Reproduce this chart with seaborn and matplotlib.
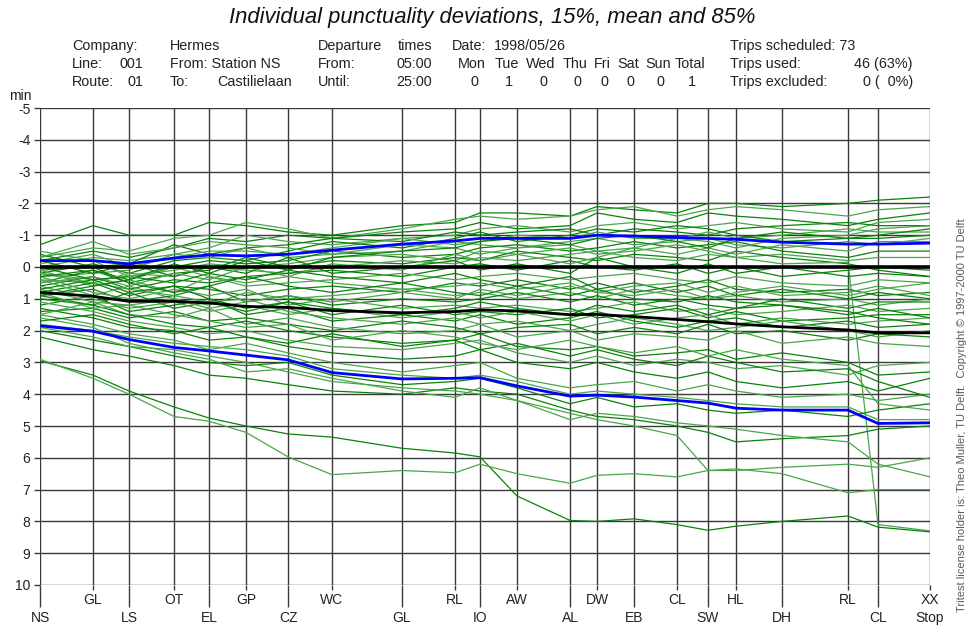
import matplotlib
matplotlib.use("Agg")
import matplotlib.pyplot as plt
import seaborn as sns
import pandas as pd

# ---------------- data ----------------
stops = ['NS', 'GL', 'LS', 'OT', 'EL', 'GP', 'CZ', 'WC', 'GL', 'RL', 'IO',
         'AW', 'AL', 'DW', 'EB', 'CL', 'SW', 'HL', 'DH', 'RL', 'CL', 'XX']
stop_position = [0, 53, 89, 134, 169, 206, 248, 292, 362, 415, 440,
                 477, 530, 557, 594, 637, 668, 696, 742, 808, 838, 890]

pct15 = [-0.2, -0.2, -0.1, -0.28, -0.38, -0.35, -0.4, -0.53, -0.72, -0.82, -0.9,
         -0.9, -0.9, -1.0, -0.97, -0.93, -0.9, -0.87, -0.78, -0.72, -0.72, -0.75]
mean_dev = [0.8, 0.92, 1.08, 1.08, 1.13, 1.24, 1.27, 1.37, 1.44, 1.4, 1.35,
            1.38, 1.5, 1.49, 1.56, 1.65, 1.72, 1.79, 1.88, 1.98, 2.07, 2.07]
pct85 = [1.85, 2.02, 2.28, 2.53, 2.64, 2.77, 2.92, 3.32, 3.52, 3.5, 3.48,
         3.74, 4.06, 4.03, 4.09, 4.2, 4.28, 4.44, 4.5, 4.5, 4.92, 4.9]

trip_01 = [-0.7, -1.3, -1.0, -1.0, -1.4, -1.3, -1.1, -1.0, -1.3, -1.4, -1.7, -1.7, -1.6, -1.9, -1.8, -1.7, -2.0, -2.0, -1.9, -2.0, -2.1, -2.2]
trip_02 = [-0.3, -0.6, -0.5, -0.9, -1.0, -1.4, -1.2, -0.9, -1.2, -1.5, -1.6, -1.5, -1.6, -1.8, -1.9, -1.6, -1.8, -1.9, -1.8, -1.6, -1.8, -1.9]
trip_03 = [-0.2, -0.5, -0.3, -0.6, -0.9, -0.8, -1.0, -0.9, -1.1, -1.2, -1.4, -1.2, -1.3, -1.7, -1.5, -1.4, -1.7, -1.6, -1.5, -1.3, -1.5, -1.7]
trip_04 = [0.0, -0.3, -0.2, -0.4, -0.6, -1.0, -0.8, -0.7, -0.9, -1.0, -1.2, -1.3, -1.1, -1.3, -1.4, -1.2, -1.3, -1.4, -1.2, -1.1, -1.4, -1.5]
trip_05 = [0.1, 0.0, -0.1, -0.7, -0.4, -0.6, -0.7, -0.9, -0.8, -1.1, -1.0, -1.1, -1.2, -1.0, -1.2, -1.1, -1.0, -1.2, -1.3, -1.4, -1.3, -1.3]
trip_06 = [-0.1, -0.4, 0.0, -0.3, -0.5, -0.5, -0.4, -0.6, -0.9, -0.7, -0.8, -1.0, -0.9, -1.1, -0.9, -0.9, -1.1, -0.9, -1.0, -1.2, -1.1, -1.1]
trip_07 = [0.2, -0.1, 0.2, -0.2, -0.3, -0.2, -0.5, -0.8, -0.6, -0.9, -1.1, -0.8, -1.0, -1.2, -1.1, -1.3, -1.2, -1.0, -0.8, -0.9, -0.9, -1.0]
trip_08 = [0.3, 0.2, 0.1, -0.4, -0.3, -0.6, -0.3, -0.4, -0.5, -0.8, -0.7, -0.6, -0.8, -0.9, -0.7, -0.8, -0.9, -0.7, -0.6, -0.8, -0.7, -0.9]
trip_09 = [0.5, 0.1, 0.4, 0.0, -0.2, -0.1, -0.2, -0.5, -0.3, -0.4, -0.6, -0.7, -0.5, -0.6, -0.8, -0.6, -0.7, -0.8, -0.5, -0.3, -0.5, -0.5]
trip_10 = [0.2, 0.4, 0.3, 0.1, -0.1, 0.0, -0.1, -0.3, -0.4, -0.2, -0.5, -0.4, -0.6, -0.4, -0.5, -0.7, -0.5, -0.3, -0.4, -0.2, -0.3, -0.3]
trip_11 = [-0.4, 0.0, 0.5, 0.2, 0.1, -0.3, 0.0, -0.2, -0.1, -0.3, -0.2, -0.5, -0.3, -0.2, -0.4, -0.3, -0.2, -0.5, -0.3, -0.1, 0.1, 0.3]
trip_12 = [0.4, 0.5, 0.2, 0.3, 0.0, 0.1, 0.2, 0.0, -0.2, -0.1, -0.3, -0.2, -0.4, -0.5, -0.3, -0.2, -0.4, -0.3, -0.1, -0.15, 8.1, 8.3]
trip_13 = [0.6, 0.3, 0.7, 0.4, 0.5, 0.3, 0.2, 0.1, 0.3, 0.0, -0.1, 0.1, -0.2, 0.0, 0.1, -0.1, 0.2, 0.0, 0.3, 0.1, 0.0, 0.1]
trip_14 = [0.1, 0.6, 0.4, 0.8, 0.3, 0.6, 0.5, 0.4, 0.2, 0.4, 0.3, 0.2, 0.4, 0.3, 0.2, 0.4, 0.5, 0.3, 0.5, 0.6, 0.4, 0.5]
trip_15 = [0.8, 0.5, 0.9, 0.6, 0.7, 0.9, 0.7, 0.6, 0.8, 0.5, 0.6, 0.4, 0.7, 0.5, 0.8, 0.6, 0.4, 0.7, 0.8, 0.7, 0.9, 0.8]
trip_16 = [0.4, 0.9, 0.6, 1.0, 1.2, 0.8, 1.0, 0.9, 0.7, 0.9, 0.8, 1.0, 0.8, 1.0, 0.7, 0.9, 1.0, 0.9, 1.1, 1.0, 1.2, 1.0]
trip_17 = [0.9, 0.7, 1.1, 0.9, 0.6, 1.1, 0.9, 1.2, 1.0, 1.1, 1.0, 0.8, 1.1, 0.9, 1.2, 1.0, 1.2, 1.3, 1.0, 1.3, 1.1, 1.1]
trip_18 = [0.3, 0.8, 1.0, 0.7, 0.9, 0.7, 1.2, 1.0, 1.3, 1.2, 1.3, 1.2, 1.4, 1.3, 1.1, 1.4, 1.3, 1.5, 1.4, 1.2, 1.4, 1.3]
trip_19 = [1.0, 1.2, 0.8, 1.3, 1.1, 1.4, 1.1, 1.5, 1.2, 1.5, 1.4, 1.5, 1.3, 1.6, 1.5, 1.3, 1.6, 1.4, 1.7, 1.6, 1.5, 1.5]
trip_20 = [0.6, 1.0, 1.3, 1.1, 1.4, 1.2, 1.5, 1.3, 1.6, 1.4, 1.6, 1.4, 1.7, 1.5, 1.8, 1.6, 1.5, 1.8, 1.6, 1.8, 1.7, 1.6]
trip_21 = [1.2, 0.9, 1.4, 1.2, 1.0, 1.5, 1.3, 1.7, 1.5, 1.7, 1.5, 1.8, 1.6, 1.4, 1.7, 1.9, 1.7, 1.6, 1.9, 1.7, 1.9, 1.8]
trip_22 = [0.2, 0.5, 0.7, 0.9, 1.1, 1.0, 1.4, 1.6, 1.8, 1.6, 1.8, 1.7, 2.0, 1.8, 1.6, 1.8, 2.0, 1.9, 1.7, 2.0, 2.2, 2.0]
trip_23 = [1.4, 1.3, 1.6, 1.4, 1.7, 1.6, 1.8, 2.0, 1.7, 1.9, 2.1, 1.9, 1.8, 2.1, 1.9, 2.1, 1.8, 2.1, 2.0, 2.3, 2.1, 2.2]
trip_24 = [0.7, 1.1, 1.5, 1.6, 1.3, 1.8, 1.6, 1.9, 2.1, 2.0, 1.8, 2.2, 2.0, 2.3, 2.1, 2.2, 2.3, 2.0, 2.4, 2.2, 2.4, 2.5]
trip_25 = [-0.2, 0.2, -0.1, 0.3, 0.0, 0.2, -0.3, 0.2, 0.0, -0.2, 0.1, -0.1, 0.2, -0.3, 0.0, 0.2, -0.1, 0.2, 0.0, 0.3, 0.2, 0.3]
trip_26 = [0.5, 0.3, 0.6, 0.2, 0.4, 0.0, 0.3, -0.1, 0.1, -0.4, -0.2, -0.4, -0.1, -0.3, -0.6, -0.4, -0.6, -0.4, -0.7, -0.5, -0.8, -0.8]
trip_27 = [0.7, 0.4, 0.3, 0.5, 0.2, 0.4, 0.1, 0.3, 0.5, 0.2, 0.4, 0.6, 0.3, 0.7, 0.5, 0.8, 0.6, 0.9, 0.7, 1.0, 0.8, 1.0]
trip_28 = [1.8, 2.0, 2.2, 2.4, 2.5, 2.6, 2.8, 3.2, 3.4, 3.5, 3.4, 3.6, 4.0, 3.9, 4.0, 4.1, 4.2, 4.3, 4.4, 4.4, 4.8, 4.8]
trip_29 = [2.0, 2.3, 2.5, 2.8, 3.0, 3.1, 3.0, 3.4, 3.7, 3.6, 3.5, 3.8, 4.3, 4.1, 4.4, 4.3, 4.5, 4.6, 4.5, 4.7, 4.5, 4.3]
trip_30 = [1.5, 1.8, 2.1, 2.3, 2.6, 2.4, 2.7, 3.0, 3.3, 3.1, 3.0, 3.5, 3.8, 3.7, 3.6, 3.9, 3.7, 3.9, 4.1, 4.0, 4.2, 4.0]
trip_31 = [2.2, 2.6, 2.8, 3.1, 3.4, 3.5, 3.7, 3.9, 4.0, 3.8, 3.9, 4.0, 4.5, 4.7, 4.8, 5.0, 5.2, 5.5, 5.4, 5.3, 5.1, 5.0]
trip_32 = [1.6, 1.9, 2.4, 2.7, 2.9, 3.3, 3.2, 3.5, 3.9, 4.1, 3.8, 4.2, 4.6, 4.8, 5.0, 5.3, 6.4, 6.4, 6.3, 6.2, 6.3, 6.0]
trip_33 = [1.3, 1.6, 1.9, 2.0, 2.3, 2.2, 2.5, 2.7, 2.9, 2.8, 2.6, 3.0, 3.2, 3.0, 3.3, 3.5, 3.3, 3.6, 3.8, 3.6, 3.9, 3.5]
trip_34 = [1.1, 1.4, 1.7, 1.9, 2.1, 2.0, 2.3, 2.5, 2.6, 2.4, 2.3, 2.7, 3.0, 2.8, 3.1, 2.9, 3.0, 3.2, 3.1, 3.4, 3.1, 3.0]
trip_35 = [0.9, 1.2, 1.5, 1.8, 1.9, 1.7, 2.0, 2.2, 2.4, 2.3, 2.1, 2.5, 2.6, 2.5, 2.8, 2.7, 2.6, 2.9, 2.7, 3.0, 3.4, 3.3]
trip_36 = [1.9, 2.2, 2.5, 2.6, 2.8, 3.0, 3.3, 3.6, 3.8, 3.9, 4.0, 4.2, 4.8, 4.6, 4.7, 4.9, 5.0, 5.1, 5.3, 5.5, 6.2, 6.6]
trip_37 = [2.95, 3.4, 3.9, 4.4, 4.75, 5.0, 5.25, 5.35, 5.7, 5.85, 5.97, 7.2, 7.97, 8.0, 7.92, 8.1, 8.28, 8.15, 8.0, 7.83, 8.18, 8.33]
trip_38 = [2.9, 3.5, 4.0, 4.7, 4.85, 5.2, 5.97, 6.53, 6.4, 6.47, 6.2, 6.5, 6.8, 6.55, 6.5, 6.6, 6.4, 6.35, 6.5, 7.1, 7.0, 7.0]
trip_39 = [1.7, 1.5, 1.8, 2.1, 1.9, 2.2, 2.4, 2.1, 2.5, 2.3, 2.6, 2.4, 2.8, 2.6, 2.9, 3.1, 2.8, 3.0, 3.3, 3.2, 3.6, 4.1]
trip_40 = [0.8, 1.3, 1.2, 1.5, 1.7, 1.9, 1.8, 2.3, 2.0, 2.2, 2.4, 2.6, 2.3, 2.5, 2.7, 2.5, 2.8, 2.6, 2.9, 3.1, 4.3, 4.5]
trip_41 = [0.0, 0.4, 0.8, 0.6, 1.0, 1.3, 1.1, 1.3, 1.5, 1.3, 1.1, 1.3, 1.5, 1.2, 1.4, 1.2, 1.5, 1.3, 1.2, 1.5, 1.3, 1.6]
trip_42 = [-0.5, -0.2, 0.3, 0.0, 0.3, 0.5, 0.3, 0.5, 0.7, 0.6, 0.5, 0.7, 0.5, 0.8, 0.6, 0.5, 0.8, 0.6, 0.9, 0.8, 0.6, 0.9]
trip_43 = [0.3, 0.1, 0.5, 0.8, 0.6, 0.3, 0.6, 0.8, 0.5, 0.8, 0.9, 0.6, 0.9, 0.7, 1.0, 1.1, 0.9, 1.1, 1.2, 1.4, 1.6, 1.8]
trip_44 = [-0.3, -0.8, -0.4, -0.6, -0.8, -0.7, -0.6, -0.4, -0.7, -0.6, -0.4, -0.6, -0.7, -0.5, -0.6, -0.9, -0.8, -0.6, -0.9, -1.0, -1.2, -1.3]
trip_45 = [0.9, 0.6, 0.4, -0.1, 0.2, -0.2, 0.1, -0.3, -0.5, -0.6, -0.8, -0.9, -0.7, -0.9, -1.0, -0.8, -0.6, -0.9, -1.1, -0.9, -1.0, -1.2]
trip_46 = [1.5, 1.1, 1.2, 1.0, 1.3, 1.1, 0.9, 1.1, 0.8, 1.0, 0.7, 0.9, 0.6, 0.8, 0.9, 0.7, 1.0, 0.8, 0.6, 0.9, 0.7, 0.5]

trips = [trip_01, trip_02, trip_03, trip_04, trip_05, trip_06, trip_07, trip_08,
         trip_09, trip_10, trip_11, trip_12, trip_13, trip_14, trip_15, trip_16,
         trip_17, trip_18, trip_19, trip_20, trip_21, trip_22, trip_23, trip_24,
         trip_25, trip_26, trip_27, trip_28, trip_29, trip_30, trip_31, trip_32,
         trip_33, trip_34, trip_35, trip_36, trip_37, trip_38, trip_39, trip_40,
         trip_41, trip_42, trip_43, trip_44, trip_45, trip_46]

y_ticks = list(range(-5, 11))
day_names = ['Mon', 'Tue', 'Wed', 'Thu', 'Fri', 'Sat', 'Sun', 'Total']
day_counts = [0, 1, 0, 0, 0, 0, 0, 1]

# ---------------- figure ----------------
sns.set_theme(style="white")
plt.rcParams['font.family'] = ['Liberation Sans', 'DejaVu Sans']

W, H = 969, 632
fig = plt.figure(figsize=(W / 100, H / 100), dpi=100)
fig.patch.set_facecolor('white')

def fx(px):
    return px / W

def fy(py):
    return 1 - py / H

ax_l, ax_r, ax_t, ax_b = 40, 930, 108, 585
ax = fig.add_axes([fx(ax_l), fy(ax_b), fx(ax_r - ax_l), (ax_b - ax_t) / H])
ax.set_facecolor('white')

rows = []
for i, tr in enumerate(trips):
    for p, v in zip(stop_position, tr):
        rows.append({'trip': i, 'position': p, 'deviation': v})
df = pd.DataFrame(rows)

greens = ['#0a820a' if i % 2 == 0 else '#4aa64a' for i in range(len(trips))]
sns.lineplot(data=df, x='position', y='deviation', hue='trip', units='trip',
             estimator=None, palette=greens, linewidth=0.9, legend=False,
             sort=False, ax=ax, zorder=3)

ax.axhline(0, color='black', lw=2.6, zorder=4)
sns.lineplot(x=stop_position, y=mean_dev, color='black', linewidth=2.0, ax=ax,
             zorder=5, estimator=None, sort=False)
sns.lineplot(x=stop_position, y=pct15, color='#0000ff', linewidth=2.0, ax=ax,
             zorder=6, estimator=None, sort=False)
sns.lineplot(x=stop_position, y=pct85, color='#0000ff', linewidth=2.0, ax=ax,
             zorder=6, estimator=None, sort=False)

ax.set_xlim(stop_position[0], stop_position[-1])
ax.set_ylim(10, -5)
ax.set_xlabel('')
ax.set_ylabel('')

upper_pos = stop_position[1::2]
upper_lab = stops[1::2]
lower_pos = stop_position[0::2]
lower_lab = stops[0::2]
ax.set_xticks(upper_pos)
ax.set_xticklabels(upper_lab)
ax.set_xticks(lower_pos, minor=True)
ax.set_xticklabels(lower_lab, minor=True)
ax.set_yticks(y_ticks)
ax.set_yticklabels([str(t) for t in y_ticks])

grid_c = '#3a3a3a'
ax.grid(True, which='both', axis='x', color=grid_c, lw=1.0, zorder=1)
ax.grid(True, which='major', axis='y', color=grid_c, lw=1.0, zorder=1)
ax.tick_params(axis='x', which='major', bottom=True, length=3.5, width=1.0,
               color=grid_c, pad=2, labelsize=10, labelcolor='#222222')
ax.tick_params(axis='x', which='minor', bottom=True, length=16, width=1.0,
               color=grid_c, pad=3, labelsize=10, labelcolor='#222222')
ax.tick_params(axis='y', which='major', left=True, length=4, width=1.0,
               color=grid_c, pad=3, labelsize=10, labelcolor='#222222')
for s in ax.spines.values():
    s.set_visible(False)

# ---------------- texts ----------------
fig.text(fx(492), fy(17), 'Individual punctuality deviations, 15%, mean and 85%',
         ha='center', va='center', fontsize=15.8, style='italic', color='#111111')

hdr = dict(fontsize=10.4, va='center', color='#222222')
r1, r2, r3 = 46, 64, 82
fig.text(fx(72), fy(r1), 'Company:', ha='left', **hdr)
fig.text(fx(170), fy(r1), 'Hermes', ha='left', **hdr)
fig.text(fx(318), fy(r1), 'Departure', ha='left', **hdr)
fig.text(fx(432), fy(r1), 'times', ha='right', **hdr)
fig.text(fx(452), fy(r1), 'Date:', ha='left', **hdr)
fig.text(fx(494), fy(r1), '1998/05/26', ha='left', **hdr)
fig.text(fx(730), fy(r1), 'Trips scheduled: 73', ha='left', **hdr)

fig.text(fx(72), fy(r2), 'Line:', ha='left', **hdr)
fig.text(fx(143), fy(r2), '001', ha='right', **hdr)
fig.text(fx(170), fy(r2), 'From: Station NS', ha='left', **hdr)
fig.text(fx(318), fy(r2), 'From:', ha='left', **hdr)
fig.text(fx(432), fy(r2), '05:00', ha='right', **hdr)
fig.text(fx(730), fy(r2), 'Trips used:', ha='left', **hdr)
fig.text(fx(913), fy(r2), '46 (63%)', ha='right', **hdr)

fig.text(fx(72), fy(r3), 'Route:', ha='left', **hdr)
fig.text(fx(143), fy(r3), '01', ha='right', **hdr)
fig.text(fx(170), fy(r3), 'To:', ha='left', **hdr)
fig.text(fx(217), fy(r3), 'Castilielaan', ha='left', **hdr)
fig.text(fx(318), fy(r3), 'Until:', ha='left', **hdr)
fig.text(fx(432), fy(r3), '25:00', ha='right', **hdr)
fig.text(fx(730), fy(r3), 'Trips excluded:', ha='left', **hdr)
fig.text(fx(913), fy(r3), '0 (  0%)', ha='right', **hdr)

day_centers = [472, 507, 541, 575, 602, 628, 658, 690]
for name, cnt, cx in zip(day_names, day_counts, day_centers):
    fig.text(fx(cx), fy(r2), name, ha='center', **hdr)
    fig.text(fx(cx + 2), fy(r3), str(cnt), ha='center', **hdr)

fig.text(fx(20), fy(96), 'min', ha='center', va='center', fontsize=10, color='#222222')
fig.text(fx(930), fy(618), 'Stop', ha='center', va='center', fontsize=10, color='#222222')

fig.text(fx(962), fy(612),
         'Tritest license holder is: Theo Muller, TU Delft.  Copyright \u00a9 1997-2000 TU Delft',
         rotation=90, ha='center', va='bottom', fontsize=8, color='#5a5a5a')

fig.savefig('out.png', dpi=100, facecolor='white')
